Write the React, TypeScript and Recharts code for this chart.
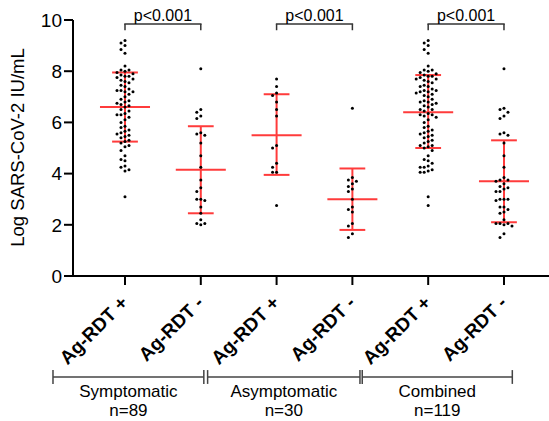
import React from 'react';
import { ScatterChart, Scatter, XAxis, YAxis, ReferenceLine, ReferenceDot } from 'recharts';

// ---------- data ----------
const categories = ['Ag-RDT +', 'Ag-RDT -', 'Ag-RDT +', 'Ag-RDT -', 'Ag-RDT +', 'Ag-RDT -'];

const symptomaticPos = [
  9.2, 9.1, 9.0, 8.85, 8.7, 8.2, 8.05, 8.05, 8.0, 7.95, 7.9, 7.85, 7.8, 7.8, 7.75, 7.7,
  7.65, 7.6, 7.55, 7.45, 7.4, 7.3, 7.25, 7.25, 7.2, 7.2, 7.1, 7.0, 6.9, 6.85, 6.8,
  6.75, 6.7, 6.65, 6.6, 6.5, 6.45, 6.35, 6.3, 6.3, 6.2, 6.1, 6.0, 5.85, 5.8, 5.7,
  5.65, 5.6, 5.55, 5.5, 5.45, 5.4, 5.3, 5.25, 5.2, 5.1, 5.05, 4.9, 4.7, 4.55, 4.5,
  4.3, 4.25, 4.15, 4.1, 3.1,
];
const symptomaticNeg = [
  8.1, 6.5, 6.4, 6.25, 6.15, 5.6, 5.55, 5.5, 5.2, 4.7, 4.25, 3.75, 3.45, 3.3, 3.0,
  3.0, 2.95, 2.7, 2.45, 2.2, 2.05, 2.05, 2.0,
];
const asymptomaticPos = [7.7, 7.4, 7.15, 7.05, 6.8, 6.5, 6.25, 5.1, 5.0, 4.4, 4.25, 4.05, 4.05, 2.75];
const asymptomaticNeg = [6.55, 3.85, 3.75, 3.7, 3.6, 3.5, 3.4, 3.3, 3.0, 2.7, 2.6, 2.5, 2.05, 1.95, 1.65, 1.5];
const combinedPos = [...symptomaticPos, ...asymptomaticPos];
const combinedNeg = [...symptomaticNeg, ...asymptomaticNeg];

const groupValues = [symptomaticPos, symptomaticNeg, asymptomaticPos, asymptomaticNeg, combinedPos, combinedNeg];

const means = [6.6, 4.15, 5.5, 3.0, 6.4, 3.7];
const sdLow = [5.25, 2.45, 3.95, 1.8, 5.0, 2.1];
const sdHigh = [7.95, 5.85, 7.1, 4.2, 7.85, 5.3];

const yTicks = [0, 2, 4, 6, 8, 10];
const xTicks = [1, 2, 3, 4, 5, 6];

const comparisons: [number, number][] = [[1, 2], [3, 4], [5, 6]];
const pLabels = ['p<0.001', 'p<0.001', 'p<0.001'];

const groupNames = ['Symptomatic', 'Asymptomatic', 'Combined'];
const groupCounts = ['n=89', 'n=30', 'n=119'];

// ---------- layout constants ----------
const FONT = 'Liberation Sans, Arial, Helvetica, sans-serif';
const RED = '#ff3b3b';
const PX_X = 75.8;
const PX_Y = 25.6;
const DOT_GAP = 4;
const MEAN_HALF = 0.33;
const CAP_HALF = 0.17;
const SIG_Y = 9.84;
const SIG_LEG = 9.6;
const GROUP_Y = -3.945;
const GROUP_CAP = 0.27;
const GROUP_SPANS: [number, number][] = [[0.05, 2.04], [2.09, 4.1], [4.13, 6.11]];

function swarm(values: number[], center: number) {
  const placed: { x: number; y: number }[] = [];
  const sorted = [...values].sort((a, b) => b - a);
  for (const v of sorted) {
    const yp = v * PX_Y;
    let chosen = 0;
    for (let k = 0; k < 60; k++) {
      const step = Math.ceil(k / 2);
      const off = k === 0 ? 0 : (k % 2 === 1 ? -step : step) * DOT_GAP;
      const ok = placed.every((p) => (p.x - off) ** 2 + (p.y - yp) ** 2 >= DOT_GAP * DOT_GAP * 0.95);
      if (ok) {
        chosen = off;
        break;
      }
    }
    placed.push({ x: chosen, y: yp });
  }
  return placed.map((p) => ({ x: center + p.x / PX_X, y: p.y / PX_Y }));
}

const points = groupValues.flatMap((vals, i) => swarm(vals, i + 1));

const XTick = (props: any) => {
  const { x, y, payload } = props;
  const label = categories[Math.round(payload.value) - 1] ?? '';
  return (
    <text
      transform={`translate(${x + 4},${y + 17}) rotate(-45)`}
      textAnchor="end"
      fontSize={19}
      fontWeight="bold"
      fontFamily={FONT}
      fill="#000"
    >
      {label}
    </text>
  );
};

const YLabel = (props: any) => {
  const vb = props.viewBox || { x: 0, y: 20, width: 73, height: 256 };
  const cx = (vb.x ?? 0) + 24;
  const cy = (vb.y ?? 20) + (vb.height ?? 256) / 2 - 0.5;
  return (
    <text
      transform={`translate(${cx},${cy}) rotate(-90)`}
      textAnchor="middle"
      fontSize={18.5}
      fontFamily={FONT}
      fill="#000"
    >
      Log SARS-CoV-2 IU/mL
    </text>
  );
};

export default function App() {
  const redLines: React.ReactNode[] = [];
  means.forEach((m, i) => {
    const x = i + 1;
    redLines.push(
      <ReferenceLine key={`v${i}`} segment={[{ x, y: sdLow[i] }, { x, y: sdHigh[i] }]} stroke={RED} strokeWidth={2} ifOverflow="visible" />,
      <ReferenceLine key={`lo${i}`} segment={[{ x: x - CAP_HALF, y: sdLow[i] }, { x: x + CAP_HALF, y: sdLow[i] }]} stroke={RED} strokeWidth={2} ifOverflow="visible" />,
      <ReferenceLine key={`hi${i}`} segment={[{ x: x - CAP_HALF, y: sdHigh[i] }, { x: x + CAP_HALF, y: sdHigh[i] }]} stroke={RED} strokeWidth={2} ifOverflow="visible" />,
      <ReferenceLine key={`m${i}`} segment={[{ x: x - MEAN_HALF, y: m }, { x: x + MEAN_HALF, y: m }]} stroke={RED} strokeWidth={2} ifOverflow="visible" />
    );
  });

  const sigLines: React.ReactNode[] = [];
  comparisons.forEach(([a, b], i) => {
    sigLines.push(
      <ReferenceLine key={`sh${i}`} segment={[{ x: a, y: SIG_Y }, { x: b, y: SIG_Y }]} stroke="#333" strokeWidth={1.5} strokeLinecap="square" ifOverflow="visible" />,
      <ReferenceLine key={`sa${i}`} segment={[{ x: a, y: SIG_Y }, { x: a, y: SIG_LEG }]} stroke="#333" strokeWidth={1.5} ifOverflow="visible" />,
      <ReferenceLine key={`sb${i}`} segment={[{ x: b, y: SIG_Y }, { x: b, y: SIG_LEG }]} stroke="#333" strokeWidth={1.5} ifOverflow="visible" />,
      <ReferenceDot
        key={`st${i}`}
        x={(a + b) / 2}
        y={SIG_Y}
        r={0}
        ifOverflow="visible"
        shape={(p: any) => (
          <text x={p.cx} y={p.cy - 3.5} textAnchor="middle" fontSize={16} fontFamily={FONT} fill="#000">
            {pLabels[i]}
          </text>
        )}
      />
    );
  });

  const groupLines: React.ReactNode[] = [];
  GROUP_SPANS.forEach(([s, e], i) => {
    groupLines.push(
      <ReferenceLine key={`gh${i}`} segment={[{ x: s, y: GROUP_Y }, { x: e, y: GROUP_Y }]} stroke="#444" strokeWidth={1.5} ifOverflow="visible" />,
      <ReferenceLine key={`gs${i}`} segment={[{ x: s, y: GROUP_Y + GROUP_CAP }, { x: s, y: GROUP_Y - GROUP_CAP }]} stroke="#444" strokeWidth={1.5} ifOverflow="visible" />,
      <ReferenceLine key={`ge${i}`} segment={[{ x: e, y: GROUP_Y + GROUP_CAP }, { x: e, y: GROUP_Y - GROUP_CAP }]} stroke="#444" strokeWidth={1.5} ifOverflow="visible" />,
      <ReferenceDot
        key={`gt${i}`}
        x={(s + e) / 2}
        y={GROUP_Y}
        r={0}
        ifOverflow="visible"
        shape={(p: any) => (
          <g>
            <text x={p.cx} y={p.cy + 20} textAnchor="middle" fontSize={17} fontFamily={FONT} fill="#000">
              {groupNames[i]}
            </text>
            <text x={p.cx} y={p.cy + 39.5} textAnchor="middle" fontSize={17} fontFamily={FONT} fill="#000">
              {groupCounts[i]}
            </text>
          </g>
        )}
      />
    );
  });

  return (
    <div style={{ position: 'absolute', left: 0, top: 0, width: 549, height: 421, background: '#fff' }}>
      <ScatterChart width={549} height={421} margin={{ top: 20, right: 0, bottom: 0, left: 0 }}>
        <XAxis
          type="number"
          dataKey="x"
          domain={[0.314, 6.594]}
          allowDataOverflow
          ticks={xTicks}
          interval={0}
          height={145}
          axisLine={{ stroke: '#000', strokeWidth: 2 }}
          tickLine={{ stroke: '#000', strokeWidth: 2 }}
          tickSize={9}
          tickMargin={2}
          tick={<XTick />}
        />
        <YAxis
          type="number"
          dataKey="y"
          domain={[0, 10]}
          ticks={yTicks}
          interval={0}
          width={73}
          axisLine={{ stroke: '#000', strokeWidth: 2 }}
          tickLine={{ stroke: '#000', strokeWidth: 2 }}
          tickSize={9}
          tickMargin={2}
          tick={{ fontSize: 19, fill: '#000', fontFamily: FONT }}
          label={<YLabel />}
        />
        {redLines}
        {sigLines}
        {groupLines}
        <Scatter
          data={points}
          isAnimationActive={false}
          shape={(p: any) => <circle cx={p.cx} cy={p.cy} r={1.5} fill="#000" />}
        />
      </ScatterChart>
    </div>
  );
}
